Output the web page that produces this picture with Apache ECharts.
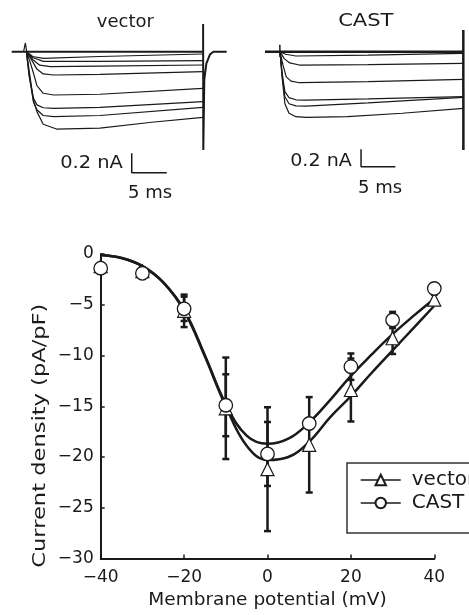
<!DOCTYPE html>
<html>
<head>
<meta charset="utf-8">
<script src="https://cdn.jsdelivr.net/npm/echarts@6/dist/echarts.min.js"></script>
<style>
html,body{margin:0;padding:0;background:#fff;}
#chart{width:469px;height:615px;}
</style>
</head>
<body>
<div id="chart"></div>
<script>
// ---------- I-V relationship data ----------
const ivVoltage = [-40, -30, -20, -10, 0, 10, 20, 30, 40];
const vectorIV  = [-1.2, -1.7, -5.6, -15.2, -21.2, -18.8, -13.4, -8.3, -4.5];
const castIV    = [-1.4, -1.9, -5.4, -14.9, -19.7, -16.7, -11.1, -6.5, -3.4];
const vectorSEM = [0.3, 0.4, 1.6, 5.0, 6.1, 4.7, 3.1, 1.55, 0.5];
const castSEM   = [0.3, 0.3, 1.2, 3.05, 3.15, 0.5, 1.3, 0.8, 0.4];
// fitted curves
const fitVoltage = [-40, -35, -30, -25, -20, -15, -10, -5, 0, 5, 10, 15, 20, 25, 30, 35, 40];
const vectorFit  = [-0.1, -0.4, -1.2, -2.8, -5.6, -10.1, -15.0, -18.9, -20.3, -20.0, -18.5, -16.1, -14.0, -11.7, -9.5, -7.3, -5.1];
const castFit    = [-0.1, -0.4, -1.2, -2.8, -5.5, -10.0, -14.8, -17.9, -18.7, -18.2, -16.6, -14.4, -12.0, -9.9, -7.9, -6.1, -4.4];
const xTicks = [-40, -20, 0, 20, 40];
const yTicks = [0, -5, -10, -15, -20, -25, -30];

// ---------- current traces, vector (time ms, current nA) ----------
const vecBaseline = [[0, 0], [27.3, 0]];
const vecTrace1 = [[2.1, 0], [3.0, -0.05], [4.5, -0.069], [12.6, -0.05], [27.3, -0.024]];
const vecTrace2 = [[2.1, 0], [3.0, -0.06], [4.5, -0.10], [12.6, -0.10], [27.3, -0.093]];
const vecTrace3 = [[2.1, 0], [3.0, -0.08], [4.0, -0.14], [5.5, -0.155], [12.6, -0.15], [27.3, -0.138]];
const vecTrace4 = [[2.1, 0], [2.8, -0.08], [3.6, -0.18], [4.5, -0.23], [6.0, -0.241], [12.6, -0.235], [27.3, -0.207]];
const vecTrace5 = [[2.1, 0], [2.6, -0.10], [3.1, -0.22], [3.6, -0.35], [4.5, -0.43], [6.0, -0.448], [12.6, -0.44], [27.3, -0.379]];
const vecTrace6 = [[2.1, 0], [2.5, -0.25], [3.1, -0.48], [3.6, -0.55], [4.5, -0.58], [6.0, -0.586], [12.6, -0.575], [27.3, -0.517]];
const vecTrace7 = [[2.1, 0], [2.5, -0.25], [3.1, -0.52], [3.6, -0.60], [4.5, -0.66], [6.0, -0.672], [12.6, -0.66], [27.3, -0.576]];
const vecTrace8 = [[2.1, 0], [2.5, -0.20], [3.1, -0.50], [3.6, -0.62], [4.5, -0.75], [6.4, -0.80], [12.6, -0.79], [20.0, -0.73], [27.3, -0.68]];
const vecOnset = [[1.7, 0], [1.95, 0.09], [2.15, 0]];
const vecTail = [[27.33, 0.286], [27.36, -1.017], [27.5, -0.29], [27.8, -0.12], [28.3, -0.03], [28.8, 0], [30.7, 0]];
const vecScale = [[17.14, -1.051], [17.14, -1.251], [22.14, -1.251]];

// ---------- current traces, CAST ----------
const castBaseline = [[0, 0], [28.9, 0]];
const castTrace1 = [[2.19, 0], [3.0, -0.03], [4.5, -0.05], [15, -0.04], [28.9, -0.019]];
const castTrace2 = [[2.19, 0], [2.8, -0.08], [3.6, -0.13], [5.0, -0.154], [15, -0.15], [28.9, -0.135]];
const castTrace3 = [[2.19, 0], [2.6, -0.15], [3.1, -0.29], [3.8, -0.34], [5.0, -0.358], [15, -0.345], [28.9, -0.319]];
const castTrace4 = [[2.19, 0], [2.5, -0.25], [2.9, -0.46], [3.5, -0.53], [4.5, -0.555], [6.0, -0.558], [15, -0.545], [28.9, -0.519]];
const castTrace5 = [[2.19, 0], [2.5, -0.28], [2.9, -0.52], [3.5, -0.60], [4.5, -0.625], [6.0, -0.627], [15, -0.59], [28.9, -0.527]];
const castTrace6 = [[2.19, 0], [2.5, -0.30], [2.9, -0.60], [3.5, -0.71], [4.5, -0.75], [6.0, -0.757], [12, -0.75], [20, -0.71], [28.9, -0.654]];
const castOnset = [[2.16, 0.08], [2.19, -0.06]];
const castEnd = [[28.9, 0.25], [28.92, -1.134]];
const castScale = [[14.0, -1.126], [14.0, -1.326], [19.0, -1.326]];

const INK = '#1a1a1a';
const FONT = 'DejaVu Sans';

function traceSeries(data, idx, width) {
  return {
    type: 'line', xAxisIndex: idx, yAxisIndex: idx, data: data,
    symbol: 'none', silent: true, clip: false,
    lineStyle: { color: INK, width: width || 1 }, z: 2
  };
}

const vecTraces = [vecTrace1, vecTrace2, vecTrace3, vecTrace4, vecTrace5, vecTrace6, vecTrace7, vecTrace8];
const castTraces = [castTrace1, castTrace2, castTrace3, castTrace4, castTrace5, castTrace6];

const series = [];
series.push(traceSeries(vecBaseline, 0, 2));
vecTraces.forEach(t => series.push(traceSeries(t, 0, 1.2)));
series.push(traceSeries(vecOnset, 0, 1.2));
series.push(traceSeries(vecTail, 0, 2));
series.push(traceSeries(vecScale, 0, 1.5));
series.push(traceSeries(castBaseline, 1, 2.5));
castTraces.forEach(t => series.push(traceSeries(t, 1, 1.2)));
series.push(traceSeries(castOnset, 1, 1.5));
series.push(traceSeries(castEnd, 1, 2.5));
series.push(traceSeries(castScale, 1, 1.5));

// IV fits
series.push({
  type: 'line', xAxisIndex: 2, yAxisIndex: 2, smooth: 0.4, symbol: 'none', clip: false,
  data: fitVoltage.map((v, i) => [v, vectorFit[i]]),
  lineStyle: { color: INK, width: 2.5 }
});
series.push({
  type: 'line', xAxisIndex: 2, yAxisIndex: 2, smooth: 0.4, symbol: 'none', clip: false,
  data: fitVoltage.map((v, i) => [v, castFit[i]]),
  lineStyle: { color: INK, width: 2.5 }
});
function errSeries(vals, sem) {
  return {
    type: 'custom', xAxisIndex: 2, yAxisIndex: 2, clip: false,
    data: ivVoltage.map((v, i) => [v, vals[i] - sem[i], vals[i] + sem[i]]),
    encode: { x: 0, y: [1, 2] },
    renderItem: function (params, api) {
      const x = api.value(0), lo = api.value(1), hi = api.value(2);
      const p1 = api.coord([x, hi]), p2 = api.coord([x, lo]);
      const w = 3.5;
      const st = { stroke: INK, lineWidth: 2.5 };
      return {
        type: 'group', children: [
          { type: 'line', shape: { x1: p1[0], y1: p1[1], x2: p2[0], y2: p2[1] }, style: st },
          { type: 'line', shape: { x1: p1[0] - w, y1: p1[1], x2: p1[0] + w, y2: p1[1] }, style: st },
          { type: 'line', shape: { x1: p2[0] - w, y1: p2[1], x2: p2[0] + w, y2: p2[1] }, style: st }
        ]
      };
    }
  };
}
series.push(errSeries(vectorIV, vectorSEM));
series.push(errSeries(castIV, castSEM));
series.push({
  name: 'vector', type: 'line', xAxisIndex: 2, yAxisIndex: 2, clip: false,
  data: ivVoltage.map((v, i) => [v, vectorIV[i]]),
  symbol: 'triangle', symbolSize: 13,
  itemStyle: { color: '#fff', borderColor: INK, borderWidth: 1.2 },
  lineStyle: { opacity: 0, width: 0 }
});
series.push({
  name: 'CAST', type: 'line', xAxisIndex: 2, yAxisIndex: 2, clip: false,
  data: ivVoltage.map((v, i) => [v, castIV[i]]),
  symbol: 'circle', symbolSize: 13.5,
  itemStyle: { color: '#fff', borderColor: INK, borderWidth: 1.3 },
  lineStyle: { opacity: 0, width: 0 }
});

const minus = s => String(s).replace('-', '\u2212');

function txt(text, x, y, size, sx, extra) {
  return Object.assign({
    type: 'text', x: x, y: y, scaleX: sx || 1,
    style: { text: text, font: size + 'px "' + FONT + '"', fill: INK, textAlign: 'center', textVerticalAlign: 'middle' }
  }, extra || {});
}

const option = {
  animation: false,
  backgroundColor: '#fff',
  grid: [
    { left: 11.7, top: 13.0, width: 215, height: 193.4 },
    { left: 265, top: 17.0, width: 202.4, height: 173.4 },
    { left: 100.7, top: 254, width: 333.6, height: 304.5 }
  ],
  xAxis: [
    { gridIndex: 0, type: 'value', min: 0, max: 30.7, show: false },
    { gridIndex: 1, type: 'value', min: 0, max: 29.5, show: false },
    {
      gridIndex: 2, type: 'value', min: -40, max: 40, interval: 20,
      splitLine: { show: false },
      axisLine: { onZero: false, lineStyle: { color: INK, width: 2 } },
      axisTick: { inside: true, length: 4, lineStyle: { color: INK, width: 1.5 } },
      axisLabel: { color: INK, fontFamily: FONT, fontSize: 17, margin: 11, formatter: v => minus(v) }
    }
  ],
  yAxis: [
    { gridIndex: 0, type: 'value', min: -1.6, max: 0.4, show: false },
    { gridIndex: 1, type: 'value', min: -1.6, max: 0.4, show: false },
    {
      gridIndex: 2, type: 'value', min: -30, max: 0, interval: 5,
      splitLine: { show: false },
      axisLine: { onZero: false, lineStyle: { color: INK, width: 2 } },
      axisTick: { inside: true, length: 4, lineStyle: { color: INK, width: 1.5 } },
      axisLabel: { color: INK, fontFamily: FONT, fontSize: 17, margin: 7, formatter: v => minus(v) }
    }
  ],
  legend: {
    data: ['vector', 'CAST'], orient: 'vertical', left: 347, top: 463,
    padding: [7, 12, 20, 13], itemGap: 3, itemWidth: 40, itemHeight: 13,
    borderColor: '#333', borderWidth: 1.5, selectedMode: false,
    lineStyle: { color: INK, width: 1.5, opacity: 1 },
    textStyle: { color: INK, fontFamily: FONT, fontSize: 20, padding: [0, 0, 0, 6] }
  },
  graphic: [
    txt('vector', 125.3, 22.7, 18, 1),
    txt('CAST', 365.8, 21.7, 18, 1.17),
    txt('0.2 nA', 91.5, 163, 18, 1.08),
    txt('5 ms', 150, 193.3, 18, 1),
    txt('0.2 nA', 321, 161.7, 18, 1.06),
    txt('5 ms', 380, 188.3, 18, 1),
    txt('Membrane potential (mV)', 267.5, 600, 18.5, 1),
    txt('Current density (pA/pF)', 40, 435.7, 18.5, 1.22, { rotation: Math.PI / 2 })
  ],
  series: series
};

const chart = echarts.init(document.getElementById('chart'), null, { renderer: 'canvas' });
chart.setOption(option);
</script>
</body>
</html>
